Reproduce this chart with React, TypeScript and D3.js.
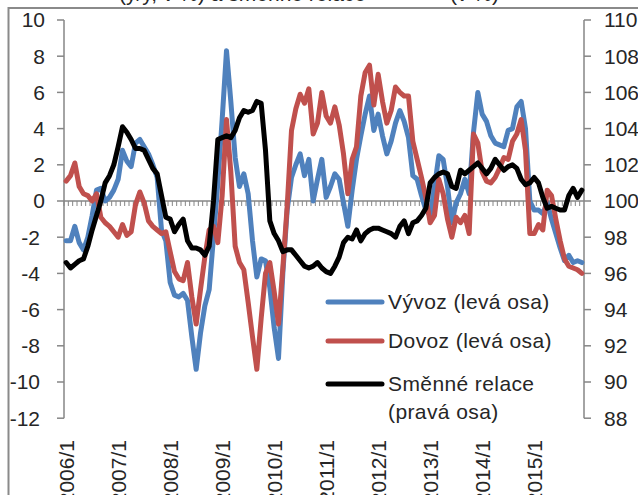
import { useEffect, useRef } from "react";
import * as d3 from "d3";

// categories: monthly, 2006/1 .. 2015/12
const years = [2006, 2007, 2008, 2009, 2010, 2011, 2012, 2013, 2014, 2015];
const months = years.flatMap((y) => d3.range(1, 13).map((m) => `${y}/${m}`));
const yearLabels = ["2006/1", "2007/1", "2008/1", "2009/1", "2010/1", "2011/1", "2012/1", "2013/1", "2014/1", "2015/1"];

// Vývoz (levá osa), y/y %
const vyvoz = [
    -2.2, -2.2, -1.4, -2.3, -2.7, -2.0, -0.8, 0.6, 0.7, 0.0, 0.2, 0.6,
    1.2, 2.8, 2.2, 1.9, 3.2, 3.4, 3.0, 2.6, 2.0, 1.3, -1.6, -2.2,
    -4.5, -5.2, -5.3, -5.1, -5.5, -7.5, -9.3, -7.3, -5.8, -4.9, -2.0, 1.0,
    4.5, 8.3, 5.5, 2.4, 0.8, 1.5, 0.4, -2.2, -4.2, -3.2, -3.3, -4.8,
    -7.0, -8.7, -4.0, -0.5, 1.3, 2.0, 2.6, 1.4, 2.3, 0.0, 1.2, 2.3,
    0.2, 0.8, 1.5, 1.2, -0.1, -1.4, 0.6, 2.3, 3.6, 4.8, 5.8, 3.9,
    4.8, 3.6, 2.6, 3.3, 4.3, 5.0, 4.4, 3.5, 1.4, 1.2, 0.3, -0.5,
    -0.8, 0.8, 2.5, 2.3, 0.8, -1.2, -0.1, 0.4, 1.2, 0.4, 3.8, 6.0,
    4.8, 4.4, 3.6, 3.2, 3.1, 3.0, 3.9, 4.0, 5.2, 5.5, 4.0, 0.0,
    -0.5, -0.5, -0.7, -0.1, -1.0, -1.8, -2.6, -3.3, -3.0, -3.4, -3.3, -3.4,
];

// Dovoz (levá osa), y/y %
const dovoz = [
    1.1, 1.4, 2.1, 0.8, 0.4, 0.3, 0.0, 0.4, -0.9, -1.2, -1.4, -1.7,
    -2.0, -1.3, -1.9, -1.7, -0.2, 0.5, -0.1, -1.1, -1.4, -1.6, -1.8, -1.7,
    -2.8, -3.9, -4.3, -4.4, -3.4, -5.3, -6.8, -4.9, -3.1, -1.6, -1.4, -2.3,
    0.3, 4.5, 1.6, -2.5, -3.4, -3.8, -5.6, -7.5, -9.3, -6.5, -4.0, -3.4,
    -5.0, -6.8, -3.7, -0.3, 3.9, 5.1, 5.9, 5.4, 6.2, 3.7, 4.3, 6.0,
    4.7, 4.3, 5.2, 4.2, 2.6, 0.4, 2.3, 3.0, 5.8, 7.1, 7.5, 5.3,
    7.0, 5.5, 4.3, 5.0, 6.3, 6.0, 5.8, 5.8, 3.3, 2.3, 1.3, 0.2,
    -1.2, -0.8, 1.2, 0.4, -1.0, -2.0, -0.9, -1.2, -0.8, -1.8, 3.7, 3.2,
    1.6, 1.1, 1.0, 1.3, 1.8, 2.4, 2.3, 3.3, 3.7, 4.5, 2.8, -1.8,
    -1.8, -1.3, -1.6, 0.6, 0.3, -1.0, -2.2, -3.2, -3.6, -3.7, -3.8, -4.0,
];

// Směnné relace (pravá osa)
const smenneRelace = [
    96.6, 96.3, 96.5, 96.7, 96.8, 97.5, 98.4, 99.2, 100.0, 101.0, 101.4, 102.0,
    103.0, 104.1, 103.8, 103.4, 102.9, 102.9, 102.8, 102.3, 101.8, 101.5, 100.3, 99.1,
    99.0, 98.3, 98.7, 99.0, 97.8, 97.4, 97.4, 97.3, 97.0, 97.5, 100.0, 103.4,
    103.5, 103.6, 103.5, 103.9, 104.6, 105.0, 104.9, 105.0, 105.5, 105.4, 102.8, 98.9,
    98.2, 97.8, 97.2, 97.3, 97.3, 97.0, 96.7, 96.4, 96.3, 96.4, 96.6, 96.3,
    96.1, 96.0, 96.4, 96.9, 97.7, 98.0, 97.9, 98.4, 97.8, 98.2, 98.4, 98.5,
    98.5, 98.4, 98.3, 98.2, 98.0, 98.6, 98.9, 98.2, 98.8, 98.9, 99.2, 99.6,
    101.0, 101.3, 101.5, 101.6, 101.5, 100.8, 100.7, 101.7, 101.5, 101.7, 101.9, 102.1,
    101.8, 101.5, 101.8, 102.3, 102.0, 101.7, 101.9, 102.0, 101.8, 101.2, 100.9, 101.0,
    101.3, 101.0, 100.2, 99.6, 99.7, 99.6, 99.5, 99.5, 100.3, 100.7, 100.2, 100.6,
];

const leftTicks = [-12, -10, -8, -6, -4, -2, 0, 2, 4, 6, 8, 10];
const rightTicks = [88, 90, 92, 94, 96, 98, 100, 102, 104, 106, 108, 110];

const legendLabels = [["Vývoz (levá osa)"], ["Dovoz (levá osa)"], ["Směnné relace", "(pravá osa)"]];
const seriesColors = ["#4F81BD", "#C0504D", "#000000"];

const FONT = "'Liberation Sans', Arial, sans-serif";

const App = () => {
    const svgRef = useRef(null);
    const width = 638;
    const height = 495;

    useEffect(() => {
        const svg = d3.select(svgRef.current);
        svg.selectAll("*").remove();

        const left = 64, right = 584, top = 20, bottom = 418.2;
        const axisColor = "#868686";
        const textColor = "#262626";

        const x = d3.scaleBand().domain(months).range([left, right]);
        const cx = (m) => x(m) + x.bandwidth() / 2;
        const yL = d3.scaleLinear().domain([-12, 10]).range([bottom, top]);
        const yR = d3.scaleLinear().domain([88, 110]).range([bottom, top]);

        // frame + title (its line is cut by the picture's top edge)
        svg.append("rect").attr("width", width).attr("height", height).attr("fill", "#fff");
        const title = svg.append("text")
            .attr("y", 0.5)
            .style("font-family", FONT)
            .style("font-size", "21px")
            .attr("fill", textColor);
        title.append("tspan").attr("x", 119).text("(y/y, v %) a směnné relace");
        title.append("tspan").attr("x", 450).text("(v %)");

        svg.append("path")
            .attr("d", `M8.5,${height} V8 H${width}`)
            .attr("fill", "none")
            .attr("stroke", "#8a8a8a")
            .attr("stroke-width", 2);

        // left axis
        svg.append("line").attr("x1", left).attr("x2", left).attr("y1", top).attr("y2", bottom)
            .attr("stroke", axisColor).attr("stroke-width", 1.5);
        const lt = svg.append("g").selectAll("g").data(leftTicks).join("g");
        lt.append("line")
            .attr("x1", left - 7).attr("x2", left)
            .attr("y1", (d) => yL(d)).attr("y2", (d) => yL(d))
            .attr("stroke", axisColor).attr("stroke-width", 1.5);
        lt.append("text")
            .attr("x", (d) => (d < 0 ? 40 : 45))
            .attr("y", (d) => yL(d))
            .attr("dy", "0.35em")
            .attr("text-anchor", "end")
            .style("font-family", FONT)
            .style("font-size", "21px")
            .attr("fill", textColor)
            .text((d) => d);

        // right axis
        svg.append("line").attr("x1", right).attr("x2", right).attr("y1", top).attr("y2", bottom)
            .attr("stroke", axisColor).attr("stroke-width", 1.5);
        const rt = svg.append("g").selectAll("g").data(rightTicks).join("g");
        rt.append("line")
            .attr("x1", right).attr("x2", right + 7)
            .attr("y1", (d) => yR(d)).attr("y2", (d) => yR(d))
            .attr("stroke", axisColor).attr("stroke-width", 1.5);
        rt.append("text")
            .attr("x", 604)
            .attr("y", (d) => yR(d))
            .attr("dy", "0.35em")
            .style("font-family", FONT)
            .style("font-size", "21px")
            .attr("fill", textColor)
            .text((d) => d);

        // category axis at zero
        svg.append("line").attr("x1", left).attr("x2", right).attr("y1", yL(0)).attr("y2", yL(0))
            .attr("stroke", axisColor).attr("stroke-width", 1.5);
        svg.append("g").selectAll("line").data(months).join("line")
            .attr("x1", (d) => x(d)).attr("x2", (d) => x(d))
            .attr("y1", yL(0)).attr("y2", yL(0) + 5)
            .attr("stroke", axisColor).attr("stroke-width", 1);

        svg.append("g").selectAll("text").data(yearLabels).join("text")
            .attr("transform", (d) => `translate(${cx(d)},440) rotate(-90)`)
            .attr("dy", "0.35em")
            .attr("text-anchor", "end")
            .style("font-family", FONT)
            .style("font-size", "21px")
            .attr("fill", textColor)
            .text((d) => d);

        // series
        const lineL = d3.line().x((_, i) => cx(months[i])).y((v) => yL(v));
        const lineR = d3.line().x((_, i) => cx(months[i])).y((v) => yR(v));
        [[vyvoz, lineL], [dovoz, lineL], [smenneRelace, lineR]].forEach(([vals, gen], k) => {
            svg.append("path")
                .attr("d", gen(vals))
                .attr("fill", "none")
                .attr("stroke", seriesColors[k])
                .attr("stroke-width", 5)
                .attr("stroke-linejoin", "round")
                .attr("stroke-linecap", "round");
        });

        // legend
        const legendY = [302, 341, 384];
        const lg = svg.append("g").selectAll("g").data(legendLabels).join("g");
        lg.append("line")
            .attr("x1", 328).attr("x2", 382)
            .attr("y1", (_, i) => legendY[i]).attr("y2", (_, i) => legendY[i])
            .attr("stroke", (_, i) => seriesColors[i])
            .attr("stroke-width", 5)
            .attr("stroke-linecap", "round");
        lg.each(function (lines, i) {
            d3.select(this).selectAll("text").data(lines).join("text")
                .attr("x", 388)
                .attr("y", (_, j) => legendY[i] + j * 28)
                .attr("dy", "0.35em")
                .style("font-family", FONT)
                .style("font-size", "21px")
                .style("letter-spacing", "0.4px")
                .attr("fill", textColor)
                .text((t) => t);
        });
    }, []);

    return (
        <div style={{ position: "absolute", left: 0, top: 0 }}>
            <svg ref={svgRef} width={width} height={height} style={{ display: "block" }} />
        </div>
    );
};

export default App;
